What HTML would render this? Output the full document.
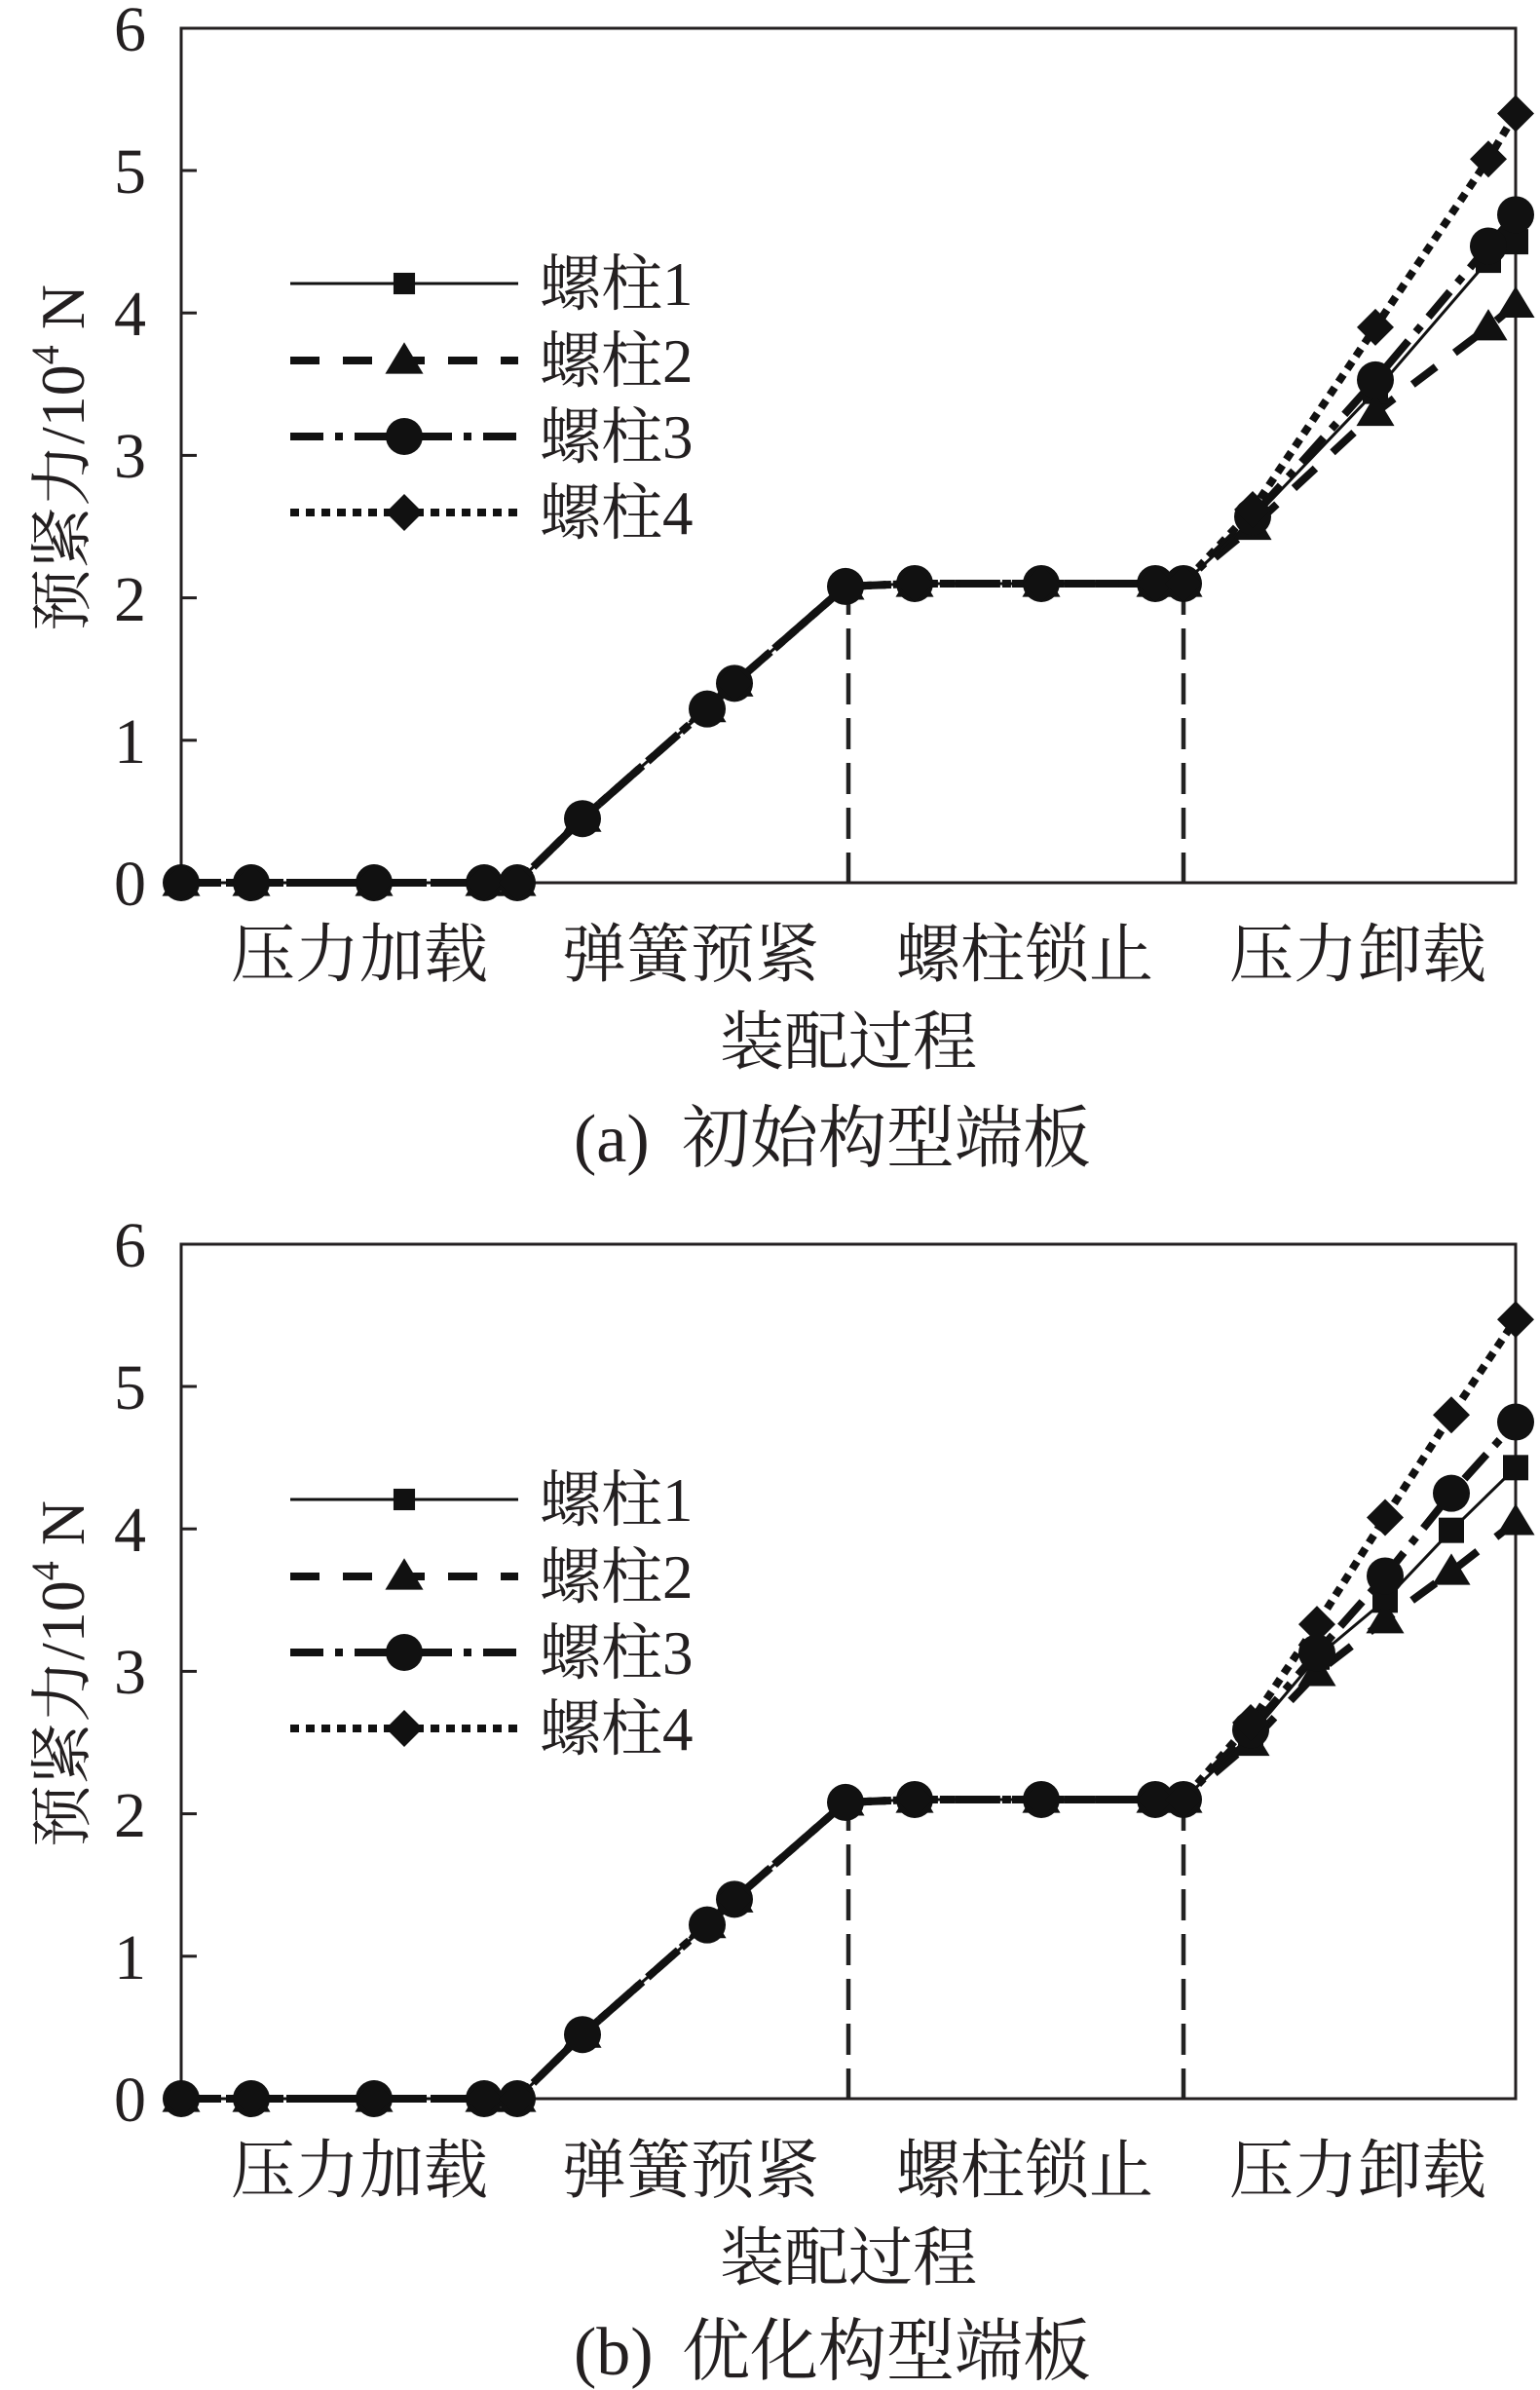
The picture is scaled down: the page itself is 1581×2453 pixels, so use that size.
<!DOCTYPE html>
<html><head><meta charset="utf-8"><style>
html,body{margin:0;padding:0;background:#fff;}
svg{display:block;}
text{fill:#231f20;}
.num{font-family:"Liberation Serif","Times New Roman",serif;font-size:66px;}
.cj{font-family:"Liberation Serif","Noto Serif CJK SC",serif;}
</style></head><body>
<svg id="s" width="1581" height="2453" viewBox="0 0 1581 2453" xmlns="http://www.w3.org/2000/svg">
<g id="txt">
<g transform="translate(0,0)">
<text class="num" x="150" y="52" text-anchor="end">6</text>
<text class="num" x="150" y="198" text-anchor="end">5</text>
<text class="num" x="150" y="344" text-anchor="end">4</text>
<text class="num" x="150" y="490" text-anchor="end">3</text>
<text class="num" x="150" y="637" text-anchor="end">2</text>
<text class="num" x="150" y="783" text-anchor="end">1</text>
<text class="num" x="150" y="929" text-anchor="end">0</text>
<text class="cj" font-size="64" transform="translate(86,470) rotate(-90)" text-anchor="middle">预紧力/10<tspan font-size="40" dy="-26">4</tspan><tspan dy="26"> N</tspan></text>
<text class="cj" font-size="66" x="369" y="1002" text-anchor="middle">压力加载</text>
<text class="cj" font-size="66" x="709" y="1002" text-anchor="middle">弹簧预紧</text>
<text class="cj" font-size="66" x="1052" y="1002" text-anchor="middle">螺柱锁止</text>
<text class="cj" font-size="66" x="1394" y="1002" text-anchor="middle">压力卸载</text>
<text class="cj" font-size="66" x="871" y="1092" text-anchor="middle">装配过程</text>
<text class="cj" font-size="70" x="589" y="1192">(a)<tspan x="700">初始构型端板</tspan></text>
<text class="cj" font-size="63" x="554" y="313">螺柱1</text>
<text class="cj" font-size="63" x="554" y="392">螺柱2</text>
<text class="cj" font-size="63" x="554" y="470">螺柱3</text>
<text class="cj" font-size="63" x="554" y="548">螺柱4</text>
</g>
<g transform="translate(0,1248)">
<text class="num" x="150" y="52" text-anchor="end">6</text>
<text class="num" x="150" y="198" text-anchor="end">5</text>
<text class="num" x="150" y="344" text-anchor="end">4</text>
<text class="num" x="150" y="490" text-anchor="end">3</text>
<text class="num" x="150" y="637" text-anchor="end">2</text>
<text class="num" x="150" y="783" text-anchor="end">1</text>
<text class="num" x="150" y="929" text-anchor="end">0</text>
<text class="cj" font-size="64" transform="translate(86,470) rotate(-90)" text-anchor="middle">预紧力/10<tspan font-size="40" dy="-26">4</tspan><tspan dy="26"> N</tspan></text>
<text class="cj" font-size="66" x="369" y="1002" text-anchor="middle">压力加载</text>
<text class="cj" font-size="66" x="709" y="1002" text-anchor="middle">弹簧预紧</text>
<text class="cj" font-size="66" x="1052" y="1002" text-anchor="middle">螺柱锁止</text>
<text class="cj" font-size="66" x="1394" y="1002" text-anchor="middle">压力卸载</text>
<text class="cj" font-size="66" x="871" y="1092" text-anchor="middle">装配过程</text>
<text class="cj" font-size="70" x="589" y="1189">(b)<tspan x="700">优化构型端板</tspan></text>
<text class="cj" font-size="63" x="554" y="313">螺柱1</text>
<text class="cj" font-size="63" x="554" y="392">螺柱2</text>
<text class="cj" font-size="63" x="554" y="470">螺柱3</text>
<text class="cj" font-size="63" x="554" y="548">螺柱4</text>
</g>
</g>
<g id="plots"></g>
</svg>
<script>
(function(){
var NS="http://www.w3.org/2000/svg";
var root=document.getElementById("plots");
function el(tag,attrs,parent){var e=document.createElementNS(NS,tag);for(var k in attrs)e.setAttribute(k,attrs[k]);(parent||root).appendChild(e);return e;}
var X=[186,258,384,497,531,598,726,754,868,939,1069,1186,1215];
var V=[0,0,0,0,0,0.45,1.22,1.4,2.08,2.1,2.1,2.1,2.1];
var plots=[
 {off:0,xs:[1286,1412,1528,1556],d:[[2.55,3.45,4.37,4.5],[2.5,3.3,3.9,4.06],[2.57,3.53,4.47,4.69],[2.62,3.9,5.08,5.4]]},
 {off:1248,xs:[1284,1352,1422,1490,1556],d:[[2.55,3.1,3.5,3.99,4.43],[2.5,2.99,3.36,3.7,4.05],[2.59,3.13,3.67,4.25,4.75],[2.64,3.33,4.08,4.8,5.47]]}
];
var styles=[
 {w:3,da:""},
 {w:8,da:"30 24"},
 {w:8,da:"34 12 8 12"},
 {w:8,da:"9 7"}
];
function marker(g,t,x,y,sc){
 sc=sc||1;
 if(t==0){var s=13*sc;el("rect",{x:x-s,y:y-s,width:2*s,height:2*s,fill:"#111"},g);}
 else if(t==1){var h=17*sc;el("polygon",{points:(x)+","+(y-h*1.1)+" "+(x-h*1.15)+","+(y+h*0.8)+" "+(x+h*1.15)+","+(y+h*0.8),fill:"#111"},g);}
 else if(t==2){el("circle",{cx:x,cy:y,r:19*sc,fill:"#111"},g);}
 else {var d=19*sc;el("polygon",{points:x+","+(y-d)+" "+(x+d)+","+y+" "+x+","+(y+d)+" "+(x-d)+","+y,fill:"#111"},g);}
}
plots.forEach(function(p){
 var g=el("g",{transform:"translate(0,"+p.off+")"});
 function Y(v){return 906-v*146.2;}
 [871,1215].forEach(function(x){el("line",{x1:x,y1:Y(2.1),x2:x,y2:906,stroke:"#222","stroke-width":4.5,"stroke-dasharray":"32 14"},g);});
 el("rect",{x:186,y:29,width:1370,height:877,fill:"none",stroke:"#231f20","stroke-width":3},g);
 for(var i=1;i<6;i++) el("line",{x1:186,y1:Y(i),x2:202,y2:Y(i),stroke:"#231f20","stroke-width":3},g);
 p._pts=[];
 for(var s=3;s>=0;s--){
  var pts=[];
  for(var i=0;i<X.length;i++)pts.push([X[i],Y(V[i])]);
  for(var j=0;j<p.xs.length;j++)pts.push([p.xs[j],Y(p.d[s][j])]);
  el("polyline",{points:pts.map(function(q){return q.join(",");}).join(" "),fill:"none",stroke:"#111","stroke-width":styles[s].w,"stroke-dasharray":styles[s].da},g);
  p._pts[s]=pts;
 }
 for(var s=0;s<4;s++){p._pts[s].forEach(function(q){marker(g,s,q[0],q[1]);});}
 var ly=[291,370,448,526];
 for(var s=0;s<4;s++){
  el("line",{x1:298,y1:ly[s],x2:532,y2:ly[s],stroke:"#111","stroke-width":styles[s].w,"stroke-dasharray":styles[s].da},g);
  marker(g,s,415,ly[s],s==0?0.85:1);
 }
});
})();
</script>
</body></html>
